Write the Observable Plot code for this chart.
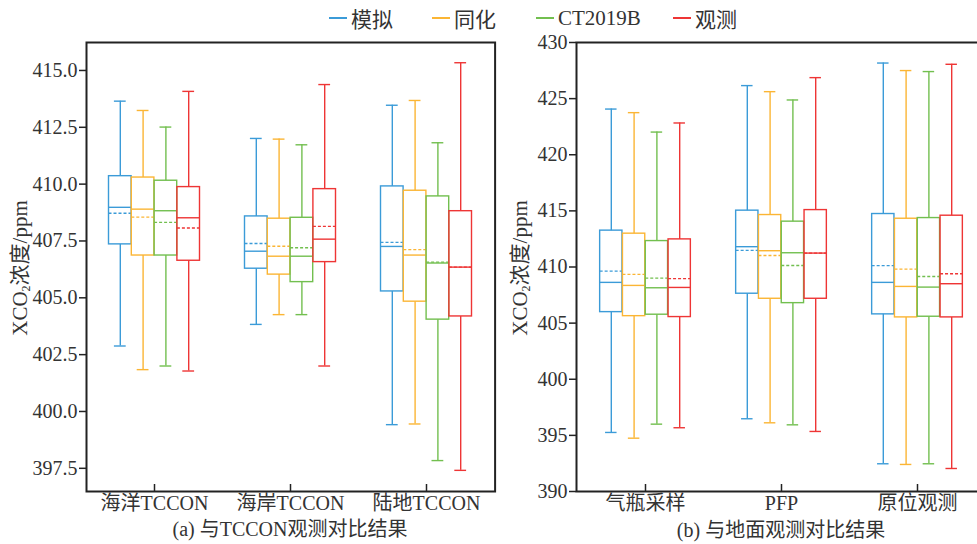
<!DOCTYPE html>
<html><head><meta charset="utf-8">
<script src="https://cdn.jsdelivr.net/npm/d3@7"></script>
<script src="https://cdn.jsdelivr.net/npm/@observablehq/plot@0.6"></script>
<style>
body{margin:0;background:#fff;overflow:hidden}
#wrap{position:relative;width:977px;height:544px;overflow:hidden;font-family:"Liberation Serif","Noto Sans CJK SC",serif;color:#333}
#wrap svg text{font-family:"Liberation Serif","Noto Sans CJK SC",serif !important;font-variant:normal !important}
.leg{position:absolute;top:6px;height:24px;display:flex;align-items:center;font-size:21px;color:#333}
.leg span.sw{display:inline-block;width:18px;height:2px;margin-right:4px}
.ylab{position:absolute;font-size:21px;transform:translate(-50%,-50%) rotate(-90deg);white-space:nowrap;color:#333}
.ylab sub{font-size:12px;vertical-align:-3px}
.cap{position:absolute;font-size:20px;line-height:22px;transform:translateX(-50%);white-space:nowrap;color:#333}
</style></head><body><div id="wrap"></div>
<script>
const seriesNames = ["模拟", "同化", "CT2019B", "观测"];
const seriesColors = ["#3b9bd8", "#fbb534", "#72bf4f", "#ee3535"];

const catsA = ["海洋TCCON", "海岸TCCON", "陆地TCCON"];
const catsB = ["气瓶采样", "PFP", "原位观测"];
const yTicksA = [397.5, 400, 402.5, 405, 407.5, 410, 412.5, 415];
const yTicksB = [390, 395, 400, 405, 410, 415, 420, 425, 430];

// panel (a): [category][series]
const maxA  = [[413.65,413.24,412.51,414.08],[412.01,411.98,411.73,414.38],[413.47,413.68,411.82,415.34]];
const q3A   = [[410.35,410.29,410.15,409.87],[408.58,408.48,408.52,409.78],[409.90,409.71,409.46,408.81]];
const medA  = [[408.98,408.90,408.83,408.52],[407.05,406.83,406.83,407.58],[407.26,406.88,406.53,406.35]];
const meanA = [[408.72,408.55,408.32,408.07],[407.39,407.27,407.20,408.14],[407.44,407.12,406.57,406.35]];
const q1A   = [[407.35,406.86,406.86,406.63],[406.28,406.02,405.69,406.57],[405.28,404.83,404.04,404.18]];
const minA  = [[402.88,401.84,402.00,401.78],[403.83,404.26,404.26,402.00],[399.42,399.45,397.84,397.41]];

// panel (b)
const maxB  = [[424.07,423.75,422.02,422.83],[426.16,425.62,424.88,426.87],[428.17,427.50,427.41,428.06]];
const q3B   = [[413.24,412.97,412.31,412.46],[415.02,414.63,414.04,415.07],[414.72,414.30,414.36,414.57]];
const medB  = [[408.63,408.36,408.15,408.18],[411.81,411.45,411.27,411.24],[408.63,408.27,408.21,408.51]];
const meanB = [[409.63,409.34,409.01,408.96],[411.48,411.03,410.14,411.24],[410.12,409.81,409.16,409.40]];
const q1B   = [[405.98,405.62,405.75,405.54],[407.62,407.17,406.78,407.17],[405.78,405.51,405.57,405.51]];
const minB  = [[395.26,394.75,396.00,395.68],[396.48,396.12,395.94,395.35],[392.47,392.41,392.47,392.05]];

function buildRows(cats, mn, q1, md, q3, mx, mean) {
  const rows = [];
  cats.forEach((c, ci) => seriesNames.forEach((s, si) => rows.push({
    cat: c, si, min: mn[ci][si], q1: q1[ci][si], med: md[ci][si], q3: q3[ci][si], max: mx[ci][si], mean: mean[ci][si]
  })));
  return rows;
}

const FONT = '"Liberation Serif","Noto Sans CJK SC",serif';

function panel({cats, rows, yDomain, yTicks, fmt, width, ml, mr}) {
  const band = (width - ml - mr) / cats.length;
  const boxW = 22.8, pad = (band - 4 * boxW) / 2, capIn = 5.4, sw = 1.4;
  const marks = [];
  seriesNames.forEach((s, i) => {
    const data = rows.filter(d => d.si === i);
    const col = seriesColors[i];
    const L = pad + i * boxW, R = band - pad - (i + 1) * boxW;
    const dx = (i - 1.5) * boxW;
    marks.push(
      Plot.ruleX(data, {x: "cat", y1: "q3", y2: "max", dx, stroke: col, strokeWidth: sw}),
      Plot.ruleX(data, {x: "cat", y1: "min", y2: "q1", dx, stroke: col, strokeWidth: sw}),
      Plot.tickY(data, {x: "cat", y: "max", stroke: col, strokeWidth: sw, insetLeft: L + capIn, insetRight: R + capIn}),
      Plot.tickY(data, {x: "cat", y: "min", stroke: col, strokeWidth: sw, insetLeft: L + capIn, insetRight: R + capIn}),
      Plot.barY(data, {x: "cat", y1: "q1", y2: "q3", fill: "none", stroke: col, strokeWidth: sw, insetLeft: L, insetRight: R}),
      Plot.tickY(data, {x: "cat", y: "mean", stroke: col, strokeWidth: sw, strokeDasharray: "3,2", insetLeft: L, insetRight: R}),
      Plot.tickY(data, {x: "cat", y: "med", stroke: col, strokeWidth: sw, insetLeft: L, insetRight: R})
    );
  });
  marks.push(
    Plot.frame({stroke: "#222", strokeWidth: 2}),
    Plot.axisY({ticks: yTicks, tickFormat: fmt, tickSize: 7, tickPadding: 2, fontSize: 20, fontFamily: FONT, stroke: "#222", strokeWidth: 1.5, label: null}),
    Plot.axisX({tickSize: -7, tickPadding: 11, fontSize: 20, fontFamily: FONT, stroke: "#222", strokeWidth: 1.5, label: null})
  );
  return Plot.plot({
    width, height: 544,
    marginLeft: ml, marginRight: mr, marginTop: 42, marginBottom: 53,
    style: {fontFamily: FONT, color: "#333", background: "transparent", overflow: "visible"},
    x: {type: "band", domain: cats, padding: 0},
    y: {domain: yDomain},
    marks
  });
}

const wrap = document.getElementById("wrap");

const pA = panel({cats: catsA, rows: buildRows(catsA, minA, q1A, medA, q3A, maxA, meanA),
  yDomain: [396.48, 416.23], yTicks: yTicksA, fmt: d => d.toFixed(1), width: 500, ml: 86, mr: 5.4});
pA.style.position = "absolute"; pA.style.left = "0px"; pA.style.top = "0px";
wrap.appendChild(pA);

const pB = panel({cats: catsB, rows: buildRows(catsB, minB, q1B, medB, q3B, maxB, meanB),
  yDomain: [390, 430], yTicks: yTicksB, fmt: d => String(d), width: 500, ml: 76, mr: 14.5});
pB.style.position = "absolute"; pB.style.left = "500px"; pB.style.top = "0px";
wrap.appendChild(pB);

// legend
const legX = [329, 432, 536, 673];
seriesNames.forEach((s, i) => {
  const d = document.createElement("div");
  d.className = "leg";
  d.style.left = legX[i] + "px";
  d.innerHTML = `<span class="sw" style="background:${seriesColors[i]}"></span><span>${s}</span>`;
  wrap.appendChild(d);
});

// y labels
[[18, 268], [518, 268]].forEach(([x, y]) => {
  const d = document.createElement("div");
  d.className = "ylab";
  d.style.left = x + "px"; d.style.top = y + "px";
  d.innerHTML = "XCO<sub>2</sub>浓度/ppm";
  wrap.appendChild(d);
});

// panel captions
[[290, 518, "(a) 与TCCON观测对比结果"], [781, 519, "(b) 与地面观测对比结果"]].forEach(([x, y, t]) => {
  const d = document.createElement("div");
  d.className = "cap";
  d.style.left = x + "px"; d.style.top = y + "px";
  d.textContent = t;
  wrap.appendChild(d);
});
</script></body></html>
